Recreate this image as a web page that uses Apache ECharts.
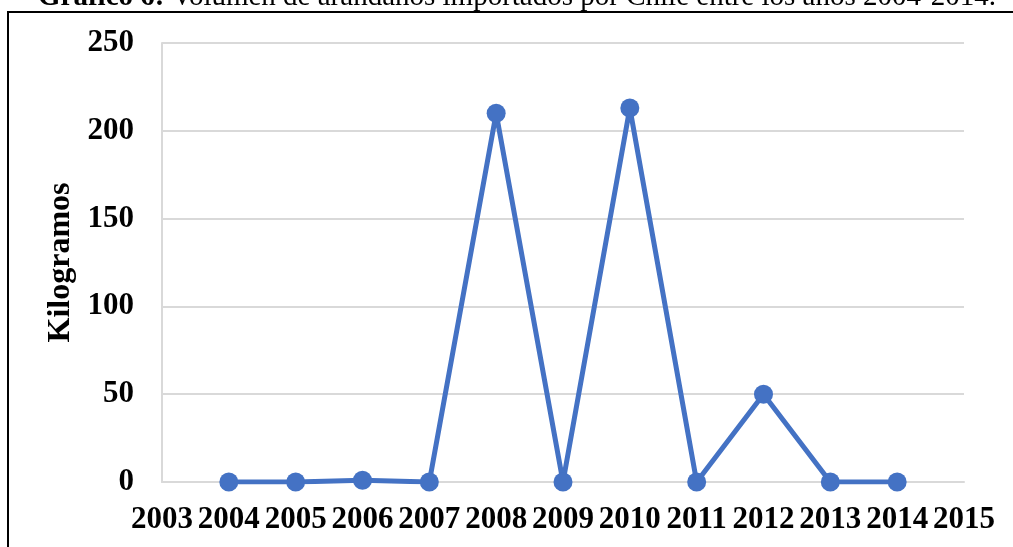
<!DOCTYPE html>
<html>
<head>
<meta charset="utf-8">
<script src="https://cdn.jsdelivr.net/npm/echarts@6/dist/echarts.min.js"></script>
<style>
html,body{margin:0;padding:0;background:#fff;}
#chart{width:1013px;height:547px;}
</style>
</head>
<body>
<div id="chart"></div>
<script>
const years = [2004, 2005, 2006, 2007, 2008, 2009, 2010, 2011, 2012, 2013, 2014];
const kilos = [0, 0, 1, 0, 210, 0, 213, 0, 50, 0, 0];
const yTicks = [0, 50, 100, 150, 200, 250];
const titleBold = 'Gráfico 6:';
const titleRest = ' Volumen de arándanos importados por Chile entre los años 2004-2014.';
const yName = 'Kilogramos';

const serif = '"Liberation Serif", "Times New Roman", serif';
const chart = echarts.init(document.getElementById('chart'), null, {renderer: 'canvas'});
chart.setOption({
  animation: false,
  backgroundColor: '#fff',
  title: {
    text: '{b|' + titleBold + '}{n|' + titleRest + '}',
    left: 33,
    top: -22,
    textStyle: {
      rich: {
        b: {fontFamily: serif, fontSize: 29, fontWeight: 'bold', color: '#000'},
        n: {fontFamily: serif, fontSize: 29, fontWeight: 'normal', color: '#000'}
      }
    }
  },
  graphic: [{
    type: 'rect',
    shape: {x: 8, y: 12, width: 1100, height: 600},
    style: {fill: 'none', stroke: '#000', lineWidth: 2},
    silent: true
  }],
  grid: {left: 162, right: 49, top: 43, bottom: 65, containLabel: false},
  xAxis: {
    type: 'value',
    min: 2003,
    max: 2015,
    interval: 1,
    axisLine: {show: true, lineStyle: {color: '#d9d9d9', width: 2}},
    axisTick: {show: false},
    splitLine: {show: false},
    axisLabel: {
      fontFamily: serif, fontSize: 31, fontWeight: 'bold', color: '#000',
      margin: 22, formatter: v => String(v)
    }
  },
  yAxis: {
    type: 'value',
    min: 0,
    max: 250,
    interval: 50,
    name: yName,
    nameLocation: 'middle',
    nameGap: 84,
    nameTextStyle: {fontFamily: serif, fontSize: 32, fontWeight: 'bold', color: '#000'},
    axisLine: {show: true, lineStyle: {color: '#d9d9d9', width: 2}},
    axisTick: {show: false},
    splitLine: {show: true, lineStyle: {color: '#d9d9d9', width: 2}},
    axisLabel: {
      fontFamily: serif, fontSize: 31, fontWeight: 'bold', color: '#000',
      margin: 28,
      formatter: v => yTicks.includes(v) ? String(v) : ''
    }
  },
  series: [{
    type: 'line',
    data: years.map((y, i) => [y, kilos[i]]),
    symbol: 'circle',
    symbolSize: 19,
    lineStyle: {color: '#4472C4', width: 5},
    itemStyle: {color: '#4472C4'}
  }]
});
</script>
</body>
</html>
